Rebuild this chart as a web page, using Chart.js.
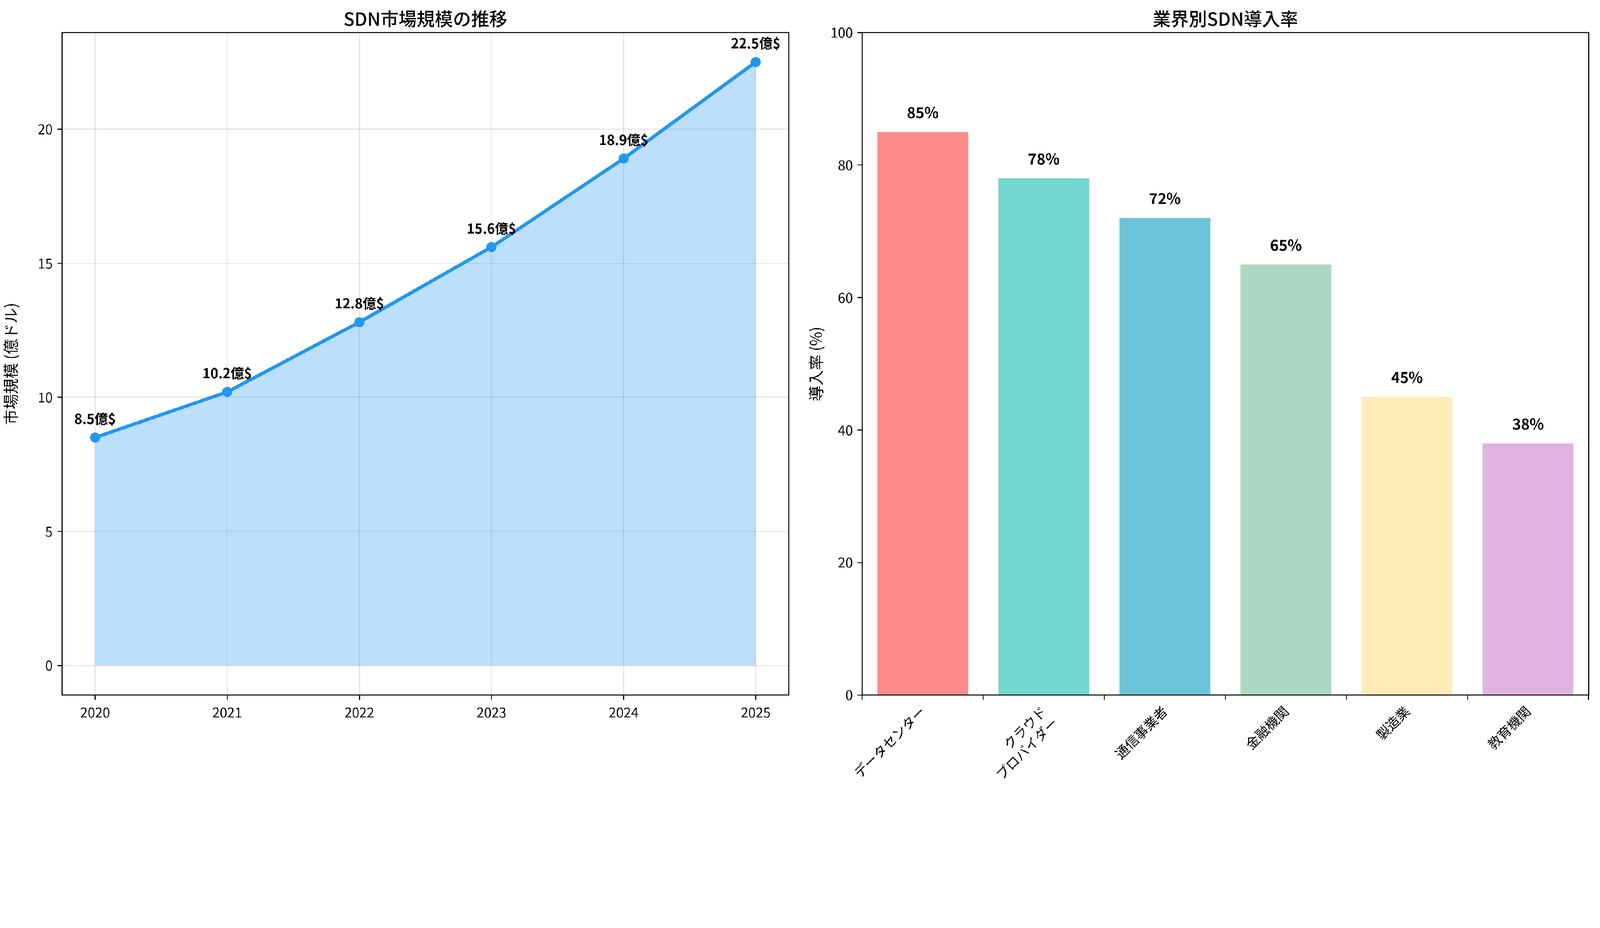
<!DOCTYPE html>
<html><head><meta charset="utf-8">
<script src="https://cdn.jsdelivr.net/npm/chart.js@4"></script>
<style>html,body{margin:0;padding:0;background:#fff;overflow:hidden}
#wrap{position:absolute;left:0;top:0;width:4769px;height:2375px;transform-origin:0 0}
canvas{position:absolute;top:0}</style></head>
<body>
<div id="wrap">
<canvas id="a" width="2400" height="2375" style="left:0;width:2400px;height:2375px"></canvas>
<canvas id="b" width="2369" height="2375" style="left:2400px;width:2369px;height:2375px"></canvas>
</div>
<script>
const years = ['2020','2021','2022','2023','2024','2025'];
const marketSize = [8.5,10.2,12.8,15.6,18.9,22.5];
const industries = ['データセンター',['クラウド','プロバイダー'],'通信事業者','金融機関','製造業','教育機関'];
const adoption = [85,78,72,65,45,38];
const barColors = ['#FF8A8A','#73D6CF','#6BC4D9','#ACD7C2','#FFECB8','#E1B3E1'];
const leftTicks = [0,5,10,15,20];

const sc = window.innerWidth/4769;
document.getElementById('wrap').style.transform='scale('+sc+')';
const DPR = Math.max(1,(window.devicePixelRatio||1)*sc);

const FONT = '"Noto Sans CJK JP","Noto Sans",sans-serif';
Chart.defaults.font.family = FONT;
Chart.defaults.color = '#000';

function frame(title){
  return {id:'frame',afterDraw(ch){
    const c=ch.ctx,a=ch.chartArea;
    c.save();c.strokeStyle='#000';c.lineWidth=3;
    c.strokeRect(a.left,a.top,a.right-a.left,a.bottom-a.top);
    c.font='500 54px '+FONT;c.textAlign='center';c.textBaseline='bottom';c.fillStyle='#000';
    c.fillText(title,(a.left+a.right)/2,a.top-14);
    c.restore();}};
}

new Chart(document.getElementById('a'),{
  type:'line',
  data:{labels:years.map(Number),datasets:[{data:marketSize.map((v,i)=>({x:+years[i],y:v})),
    borderColor:'#2196F3',borderWidth:10,pointRadius:15,pointBackgroundColor:'#2196F3',pointBorderWidth:0,
    fill:'origin',backgroundColor:'rgba(33,150,243,0.3)',tension:0}]},
  options:{responsive:false,animation:false,devicePixelRatio:DPR,
    layout:{padding:{top:97,right:49,left:0,bottom:0}},
    plugins:{legend:{display:false},tooltip:{enabled:false}},
    scales:{
      x:{type:'linear',min:2019.75,max:2025.25,
        afterBuildTicks(s){s.ticks=years.map(y=>({value:+y}));},
        afterFit(s){s.height=304;},
        ticks:{font:{size:40},padding:14,callback:v=>String(v)},
        grid:{color:'rgba(0,0,0,0.1)',lineWidth:3,tickLength:14,tickColor:'#000'},border:{display:false}},
      y:{min:-1.1,max:23.6,
        afterBuildTicks(s){s.ticks=leftTicks.map(v=>({value:v}));},
        afterFit(s){s.width=185;},
        ticks:{font:{size:40},padding:14},
        title:{display:true,text:'市場規模 (億ドル)',font:{size:46},padding:{bottom:10}},
        grid:{color:'rgba(0,0,0,0.1)',lineWidth:3,tickLength:14,tickColor:'#000'},border:{display:false}}
    }},
  plugins:[frame('SDN市場規模の推移'),{id:'lbl',afterDatasetsDraw(ch){
    const c=ch.ctx,m=ch.getDatasetMeta(0);c.save();
    c.font='bold 40px '+FONT;c.textAlign='center';c.textBaseline='bottom';c.fillStyle='#000';
    m.data.forEach((p,i)=>c.fillText(marketSize[i]+'億$',p.x,p.y-36));c.restore();}}]
});

new Chart(document.getElementById('b'),{
  type:'bar',
  data:{labels:industries,datasets:[{data:adoption,backgroundColor:barColors,barPercentage:0.75,categoryPercentage:1}]},
  options:{responsive:false,animation:false,devicePixelRatio:DPR,
    layout:{padding:{top:97,right:34,left:0,bottom:0}},
    plugins:{legend:{display:false},tooltip:{enabled:false}},
    scales:{
      x:{afterFit(s){s.height=304;},
        ticks:{font:{size:40},minRotation:45,maxRotation:45,padding:10},
        grid:{drawOnChartArea:false,tickLength:14,tickColor:'#000',lineWidth:3},border:{display:false}},
      y:{min:0,max:100,afterFit(s){s.width=170;},
        ticks:{stepSize:20,font:{size:40},padding:14},
        title:{display:true,text:'導入率 (%)',font:{size:46},padding:{bottom:10}},
        grid:{drawOnChartArea:false,tickLength:14,tickColor:'#000',lineWidth:3},border:{display:false}}
    }},
  plugins:[frame('業界別SDN導入率'),{id:'lbl',afterDatasetsDraw(ch){
    const c=ch.ctx,m=ch.getDatasetMeta(0);c.save();
    c.font='bold 44px '+FONT;c.textAlign='center';c.textBaseline='bottom';c.fillStyle='#000';
    m.data.forEach((p,i)=>c.fillText(adoption[i]+'%',p.x,p.y-36));c.restore();}}]
});
</script></body></html>
